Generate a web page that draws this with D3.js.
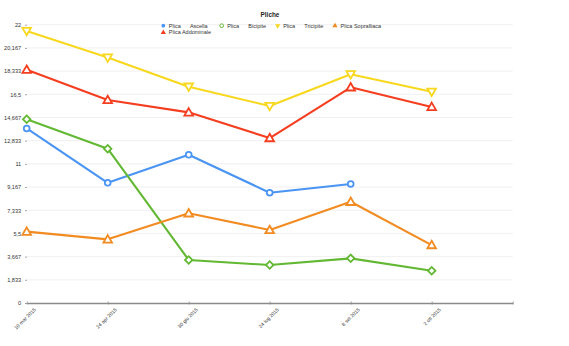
<!DOCTYPE html>
<html>
<head>
<meta charset="utf-8">
<script src="https://cdn.jsdelivr.net/npm/d3@7/dist/d3.min.js"></script>
<style>
  html, body { margin: 0; padding: 0; background: #fff; }
  svg { display: block; font-family: "Liberation Sans", Arial, sans-serif; }
</style>
</head>
<body>
<svg id="chart" width="569" height="346"></svg>
<script>
// Measurement dates (x categories)
const dates = ["10 mar 2015", "24 apr 2015", "30 giu 2015", "24 lug 2015", "8 set 2015", "2 ott 2015"];

// Skinfold series (mm); null = no measurement
const ascella     = [13.8, 9.5, 11.72, 8.72, 9.41, null];
const bicipite    = [14.52, 12.2, 3.4, 3.0, 3.53, 2.55];
const tricipite   = [21.5, 19.4, 17.1, 15.57, 18.08, 16.7];
const sopralliaca = [5.64, 5.03, 7.09, 5.77, 8.0, 4.58];
const addominale  = [18.44, 16.05, 15.07, 13.04, 17.05, 15.5];

const seriesNames = ["Plica\u00a0\u00a0\u00a0\u00a0\u00a0\u00a0Ascella", "Plica\u00a0\u00a0\u00a0\u00a0\u00a0\u00a0Bicipite",
                     "Plica\u00a0\u00a0\u00a0\u00a0\u00a0\u00a0Tricipite", "Plica Sopralliaca", "Plica Addominale"];

const yMax = 22;
const yTickCount = 12;

const series = [
  { name: seriesNames[0], values: ascella,     color: "#4a94f4", shape: "circle" },
  { name: seriesNames[1], values: bicipite,    color: "#62b832", shape: "diamond" },
  { name: seriesNames[2], values: tricipite,   color: "#f7d81e", shape: "down" },
  { name: seriesNames[3], values: sopralliaca, color: "#f28b22", shape: "up" },
  { name: seriesNames[4], values: addominale,  color: "#f43e1f", shape: "up" }
];

const svg = d3.select("#chart");
const plotLeft = 26.7, plotRight = 512.7, plotTop = 24.7, plotBottom = 303;

const x = d3.scaleLinear().domain([0, dates.length]).range([plotLeft, plotRight]);
const y = d3.scaleLinear().domain([0, yMax]).range([plotBottom, plotTop]);

const itFmt = d3.formatLocale({ decimal: ",", thousands: ".", grouping: [3], currency: ["€", ""] }).format(".3~f");
const yTicks = d3.range(yTickCount + 1).map(i => i * yMax / yTickCount);

// Horizontal gridlines
svg.append("g").selectAll("line").data(yTicks.filter(t => t > 0)).join("line")
  .attr("x1", plotLeft).attr("x2", plotRight)
  .attr("y1", d => y(d)).attr("y2", d => y(d))
  .attr("stroke", "#ececec").attr("stroke-width", 0.8);

// Y axis: labels and tick dots only
const yAxis = d3.axisLeft(y).tickValues(yTicks).tickFormat(itFmt).tickSize(1.5).tickPadding(4);
const yg = svg.append("g").attr("transform", `translate(${plotLeft},0)`).call(yAxis);
yg.select(".domain").remove();
yg.selectAll(".tick line").attr("stroke", "#888").attr("stroke-width", 1);
yg.selectAll(".tick text").attr("font-size", 5.6).attr("fill", "#333").attr("font-family", "Liberation Sans, Arial, sans-serif");

// X axis
const xAxis = d3.axisBottom(x).tickValues(d3.range(dates.length + 1))
  .tickFormat(i => dates[i] || "").tickSize(2).tickSizeOuter(0);
const xg = svg.append("g").attr("transform", `translate(0,${plotBottom})`).call(xAxis);
xg.select(".domain").attr("stroke", "#8a8a8a").attr("stroke-width", 1.6);
xg.selectAll(".tick line").attr("stroke", "#8a8a8a").attr("stroke-width", 0.8).attr("y1", -1.5).attr("y2", 1.5);
xg.selectAll(".tick text")
  .attr("font-size", 5).attr("fill", "#333").attr("font-family", "Liberation Sans, Arial, sans-serif")
  .attr("text-anchor", "end").attr("dy", null).attr("y", 0)
  .attr("transform", "translate(9,7) rotate(-45)");

// Marker paths
const sym = {
  circle: d3.symbol().type(d3.symbolCircle).size(26),
  diamond: d3.symbol().type(d3.symbolSquare).size(28),
  up: d3.symbol().type(d3.symbolTriangle).size(32),
  down: d3.symbol().type(d3.symbolTriangle).size(32)
};
const rot = { circle: 0, diamond: 45, up: 0, down: 180 };

const line = d3.line().defined(d => d != null).x((d, i) => x(i)).y(d => y(d));

const plot = svg.append("g");
series.forEach(s => {
  plot.append("path").datum(s.values)
    .attr("d", line)
    .attr("fill", "none").attr("stroke", s.color).attr("stroke-width", 2.1)
    .attr("stroke-linejoin", "round");
});
series.forEach(s => {
  plot.append("g").selectAll("path")
    .data(s.values.map((v, i) => ({ v, i })).filter(d => d.v != null))
    .join("path")
    .attr("d", sym[s.shape])
    .attr("transform", d => `translate(${x(d.i)},${y(d.v) + (s.shape === "up" ? 0.7 : s.shape === "down" ? -0.7 : 0)}) rotate(${rot[s.shape]})`)
    .attr("fill", "#fff").attr("stroke", s.color).attr("stroke-width", 1.8);
});

// Title
svg.append("text").attr("x", 270).attr("y", 16.5).attr("text-anchor", "middle")
  .attr("font-size", 6.4).attr("font-weight", "bold").attr("fill", "#222").text("Pliche");

// Legend
const legendPos = [[163.3, 27.5], [221.7, 27.5], [277.7, 27.5], [335, 27.5], [163.3, 34.3]];
const lg = svg.append("g");
series.forEach((s, k) => {
  const [lx, ly] = legendPos[k];
  const round = s.shape === "circle" || s.shape === "diamond";
  const legSym = d3.symbol().type(round ? d3.symbolCircle : d3.symbolTriangle).size(round ? 11 : 12);
  lg.append("path").attr("d", legSym)
    .attr("transform", `translate(${lx},${ly - 1.8}) rotate(${s.shape === "down" ? 180 : 0})`)
    .attr("fill", s.shape === "diamond" ? "#fff" : s.color)
    .attr("stroke", s.shape === "diamond" ? s.color : "none").attr("stroke-width", 1);
  lg.append("text").attr("x", lx + 5.5).attr("y", ly).attr("font-size", 5.5).attr("fill", "#333")
    .text(s.name);
});
</script>
</body>
</html>
